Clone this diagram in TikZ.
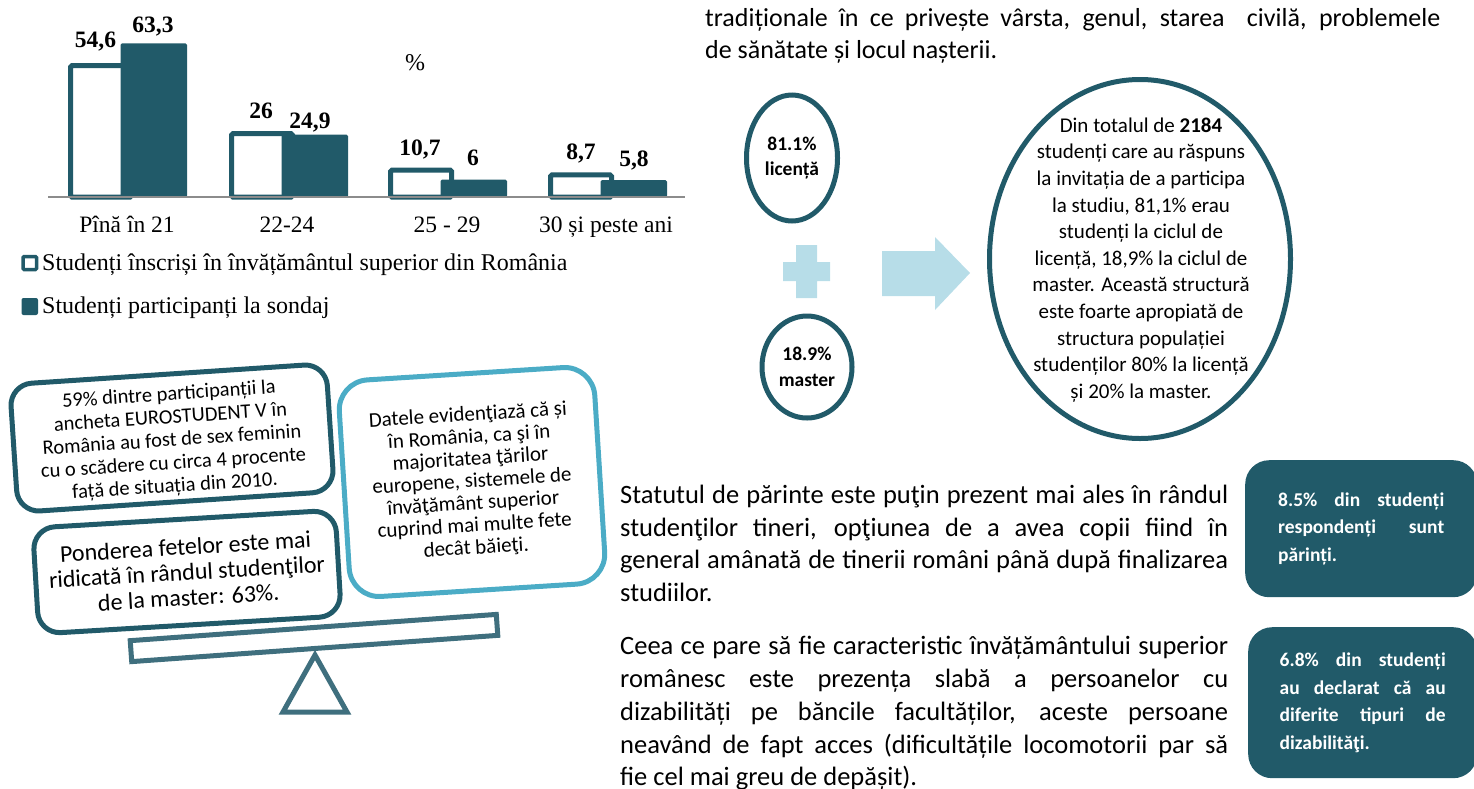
\documentclass[tikz,border=0pt]{standalone}
\usepackage{fontspec}
\setmainfont{Carlito}
\newfontfamily\tnr{Liberation Serif}
\usetikzlibrary{shapes.geometric}
\definecolor{dteal}{HTML}{215A69}
\definecolor{lblue}{HTML}{4BACC6}
\definecolor{pale}{HTML}{B7DDE8}
\definecolor{plankc}{HTML}{3F6F7E}
\definecolor{axisg}{HTML}{8C8C8C}
\newcommand{\fs}[2]{\fontsize{#1}{#2}\selectfont}
\begin{document}
\begin{tikzpicture}[x=1pt,y=-1pt,
  wbar/.style={draw=dteal,fill=white,line width=5pt,rounded corners=1.5pt},
  dbar/.style={fill=dteal,rounded corners=1.5pt},
  val/.style={font=\tnr\bfseries\fs{23.5}{28},inner sep=0pt,anchor=base},
  cat/.style={font=\tnr\fs{23.5}{26},inner sep=0pt,anchor=base},
  legtxt/.style={font=\tnr\fs{24}{26},inner sep=0pt,anchor=base west},
  rbox/.style={draw=dteal,line width=5pt,rounded corners=22pt,fill=white,align=center,inner sep=0pt},
  cbox/.style={draw=lblue,line width=5pt,rounded corners=30pt,fill=white,align=center,inner sep=0pt},
  ring/.style={ellipse,draw=dteal,line width=5pt,inner sep=0pt,align=center},
  para/.style={anchor=north west,inner sep=0pt,align=justify},
  tbox/.style={fill=dteal,rounded corners=24pt,anchor=north west,inner sep=0pt,text=white,align=justify,font=\bfseries\fs{19.5}{27.5}},
]
\useasboundingbox (0,0) rectangle (1474,788);

% ---------------- bar chart ----------------
\foreach \g/\a/\b in {68/54.6/63.3, 229/26/24.9, 388/10.7/6, 548/8.7/5.8}{
  \draw[wbar] ({\g+2.5},197) rectangle ({\g+63.5},{197-2.38*\a-1.5});
  \fill[dbar] ({\g+52.5},197) rectangle ({\g+119},{197-2.38*\b-3});
}
\draw[axisg,line width=2pt] (48,197) -- (685,197);

\node[val] (v1a) at (95.5,47) {54,6};
\node[val] (v1b) at (153,32) {63,3};
\node[val] (v2a) at (261,118) {26};
\node[val] (v2b) at (310,128) {24,9};
\node[val] (v3a) at (420,155) {10,7};
\node[val] (v3b) at (473,165) {6};
\node[val] (v4a) at (581,159) {8,7};
\node[val] (v4b) at (634,166) {5,8};
\node[font=\tnr\fs{24}{26},inner sep=0pt,anchor=base] (pct) at (415,70) {\%};

\node[cat] (c1) at (127,232) {Pînă în 21};
\node[cat] (c2) at (287,232) {22-24};
\node[cat] (c3) at (447,232) {25 - 29};
\node[cat] (c4) at (606,232) {30 și peste ani};

\draw[draw=dteal,fill=white,line width=3.5pt,rounded corners=1pt] (23,256.5) rectangle (36.5,269.5);
\fill[dteal,rounded corners=2pt] (21.5,298) rectangle (38,315);
\node[legtxt] (l1) at (42,270) {Studenți înscriși în învățământul superior din România};
\node[legtxt] (l2) at (42,313) {Studenți participanți la sondaj};

% ---------------- balance ----------------
\draw[plankc,line width=5pt,line join=miter] (315,655) -- (347,712) -- (283,712) -- cycle;
\node[draw=plankc,line width=5pt,fill=white,rotate=4.1,minimum width=367,minimum height=21,inner sep=0pt] (plank) at (314,638) {};

\node[rbox,rotate=3.8,minimum width=317,minimum height=128,font=\fs{20.5}{23}] (boxA) at (172,438) {};
\node[inner sep=0pt,align=center,rotate=3.8,font=\fs{20.5}{23}] (boxAtxt) at (172,441)
  {59\% dintre participanții la\\ancheta EUROSTUDENT V în\\România au fost de sex feminin\\cu o scădere cu circa 4 procente\\față de situația din 2010.};
\node[rbox,rotate=3.4,minimum width=303,minimum height=106,font=\fs{24}{25.5}] (boxB) at (187,572)
  {Ponderea fetelor este mai\\ridicată în rândul studenţilor\\de la master: 63\%.};
\node[cbox,rotate=3.6,minimum width=256,minimum height=217,font=\fs{21}{22.2}] (boxC) at (472,482)
  {Datele evidenţiază că și\\în România, ca şi în\\majoritatea ţărilor\\europene, sistemele de\\învăţământ superior\\cuprind mai multe fete\\decât băieţi.};

% ---------------- right column ----------------
\node[para,text width=735,font=\fs{26}{32}] (top) at (705,8)
  {tradiționale în ce privește vârsta, genul, starea\ \ civilă, problemele\linebreak de sănătate și locul nașterii.};

\node[ring,minimum width=91,minimum height=126,font=\bfseries\fs{19.5}{25}] (lic) at (792,158) {81.1\%\\licență};
\node[ring,minimum width=90,minimum height=102,font=\bfseries\fs{19.5}{26}] (mas) at (807,367) {18.9\%\\master};

\fill[pale] (796,245) -- (817,245) -- (817,262) -- (830,262) -- (830,281) -- (817,281) -- (817,298)
  -- (796,298) -- (796,281) -- (783,281) -- (783,262) -- (796,262) -- cycle;
\fill[pale] (882,251) -- (935,251) -- (935,237) -- (970,273) -- (935,310) -- (935,296) -- (882,296) -- cycle;

\node[ring,minimum width=301,minimum height=359] (big) at (1140,259) {};
\node[inner sep=0pt,align=center,font=\fs{21}{26.6}] (bigtxt) at (1141,260)
  {Din totalul de \textbf{2184}\\studenți care au răspuns\\la invitația de a participa\\la studiu, 81,1\% erau\\studenți la ciclul de\\licență, 18,9\% la ciclul de\\master. Această structură\\este foarte apropiată de\\structura populației\\studenților 80\% la licență\\și 20\% la master.};

\node[para,text width=608,font=\fs{26.5}{32.5}] (p1) at (620,485)
  {Statutul de părinte este puţin prezent mai ales în rândul\linebreak studenţilor tineri, opţiunea de a avea copii fiind în\linebreak general amânată de tinerii români până după finalizarea\linebreak studiilor.};
\node[para,text width=608,font=\fs{26.5}{32.8}] (p2) at (620,636)
  {Ceea ce pare să fie caracteristic învățământului superior\linebreak românesc este prezența slabă a persoanelor cu\linebreak dizabilități pe băncile facultăților, aceste persoane\linebreak neavând de fapt acces (dificultățile locomotorii par să\linebreak fie cel mai greu de depășit).};

\node[tbox,minimum width=232,minimum height=137,text width=166] (b1) at (1245,460)
  {8.5\% din studenți\linebreak respondenți sunt\linebreak părinți.};
\node[tbox,minimum width=229,minimum height=151,text width=166] (b2) at (1248,627)
  {6.8\% din studenți\linebreak au declarat că au\linebreak diferite tipuri de\linebreak dizabilităţi.};
\end{tikzpicture}
\end{document}
